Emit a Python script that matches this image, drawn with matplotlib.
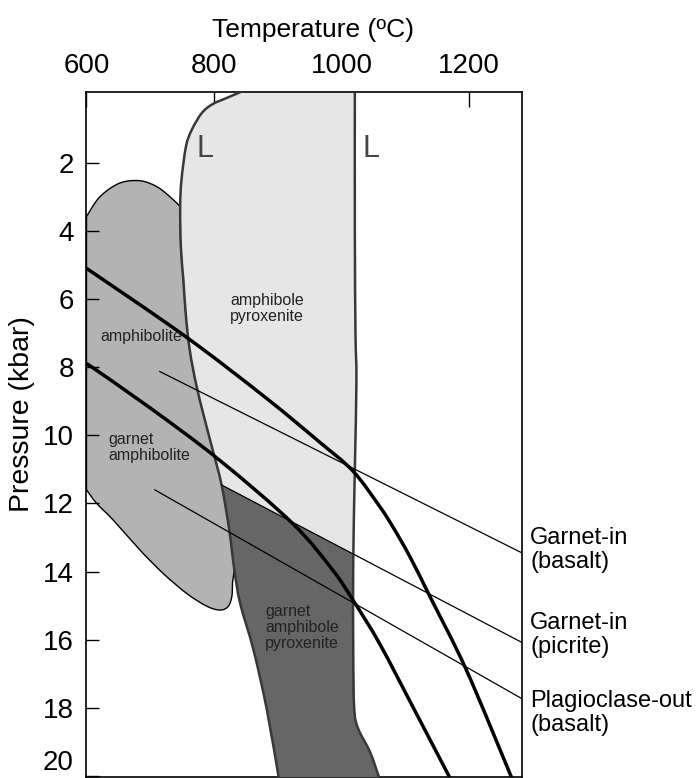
import numpy as np
import matplotlib
matplotlib.use('Agg')
import matplotlib.pyplot as plt
from matplotlib.path import Path
from matplotlib.patches import PathPatch

plt.rcParams['font.family'] = ['Liberation Sans', 'DejaVu Sans']

# left "L" boundary (solidus), temperature (C) vs pressure (kbar)
solidus_T = [845, 820, 798, 781, 765, 756, 749, 747, 748, 752, 756, 762, 772, 785, 798, 812, 824, 832, 841, 862, 883, 902]
solidus_P = [-0.1, 0.1, 0.28, 0.54, 1.04, 1.53, 2.51, 3.29, 4.46, 5.44, 6.5, 7.5, 8.5, 9.5, 10.43, 11.46, 12.78, 13.95, 14.93, 16.3, 18.06, 20.1]

# right "L" boundary (liquidus)
liquidus_T = [1021, 1021, 1022, 1023.5, 1021, 1018.5, 1018.5, 1020, 1026, 1045, 1060]
liquidus_P = [-0.1, 4, 7, 8.4, 11, 13.7, 16.3, 18.0, 18.6, 19.3, 20.1]

# amphibolite field, upper and lower edges
blob_top_T = [600, 621, 652, 684, 710, 731, 746]
blob_top_P = [3.58, 3.0, 2.6, 2.53, 2.7, 3.0, 3.27]
blob_bot_T = [829, 828, 822, 809, 788, 757, 720, 684, 642, 616, 600]
blob_bot_P = [14.34, 14.74, 15.03, 15.13, 15.01, 14.64, 14.05, 13.37, 12.49, 12.0, 11.6]

# heavy curves
heavy1_T = [600, 756, 882, 965, 1018, 1060, 1081, 1107, 1139, 1196, 1267]
heavy1_P = [5.1, 7.11, 8.91, 10.19, 11.05, 12.09, 12.7, 13.55, 14.74, 16.89, 20.05]
heavy2_T = [600, 700, 808, 923, 986, 1018.5, 1060, 1112, 1170]
heavy2_P = [7.89, 9.2, 10.72, 12.58, 13.95, 14.85, 16.12, 17.97, 20.05]

# reaction lines
gt_basalt_T = [715, 1284]
gt_basalt_P = [8.13, 13.46]
gt_picrite_T = [812, 1284]
gt_picrite_P = [11.46, 16.09]
plag_out_T = [707, 1284]
plag_out_P = [11.6, 17.74]

line_labels = ['Garnet-in\n(basalt)', 'Garnet-in\n(picrite)', 'Plagioclase-out\n(basalt)']
line_label_P = [13.37, 15.86, 18.16]


class Smooth:
	# catmull-rom through the points, handed to matplotlib as cubic bezier pieces
	def __init__(self, T, P):
		self.pts = np.column_stack([T, P]).astype(float)
		ext = np.vstack([self.pts[0], self.pts, self.pts[-1]])
		self.segs = []
		for i in range(len(self.pts) - 1):
			a, b, c, d = ext[i], ext[i + 1], ext[i + 2], ext[i + 3]
			self.segs.append((b + (c - a) / 6, c - (d - b) / 6))

	def fwd(self, i0, i1):
		v, c = [], []
		for i in range(i0, i1):
			c1, c2 = self.segs[i]
			v += [c1, c2, self.pts[i + 1]]
			c += [Path.CURVE4] * 3
		return v, c

	def back(self, i1, i0):
		v, c = [], []
		for i in range(i1 - 1, i0 - 1, -1):
			c1, c2 = self.segs[i]
			v += [c2, c1, self.pts[i]]
			c += [Path.CURVE4] * 3
		return v, c

	def path(self):
		v, c = self.fwd(0, len(self.pts) - 1)
		return Path([self.pts[0]] + v, [Path.MOVETO] + c)


fig = plt.figure(figsize=(6.97, 7.78), dpi=100)
ax = fig.add_axes([0.1241, 0.0017, 0.6255, 0.8805])

sol = Smooth(solidus_T, solidus_P)
liq = Smooth(liquidus_T, liquidus_P)
top = Smooth(blob_top_T, blob_top_P)
bot = Smooth(blob_bot_T, blob_bot_P)
sol_P = np.array(solidus_P)
liq_P = np.array(liquidus_P)

# where the garnet-in (picrite) line meets the liquidus
Ps = np.linspace(0, 20, 4001)
lT = np.interp(Ps, liquidus_P, liquidus_T)
lineP = np.interp(lT, gt_picrite_T, gt_picrite_P)
k = np.argmin(np.abs(lineP - Ps))
xT, xP = lT[k], Ps[k]
p0 = gt_picrite_P[0]
ks = int(np.argmin(np.abs(sol_P - p0)))
kl = int(np.sum(liq_P < xP)) - 1  # last liquidus node above the crossing

# light field (amphibole pyroxenite)
v, c = [sol.pts[0]], [Path.MOVETO]
a, b = sol.fwd(0, ks); v += a; c += b
v += [(xT, xP), liq.pts[kl]]; c += [Path.LINETO] * 2
a, b = liq.back(kl, 0); v += a; c += b
v.append(sol.pts[0]); c.append(Path.CLOSEPOLY)
ax.add_patch(PathPatch(Path(v, c), facecolor='#e6e6e6', lw=0, zorder=2))

# dark field (garnet amphibole pyroxenite)
n_l = len(liquidus_P) - 1
n_s = len(solidus_P) - 1
v, c = [sol.pts[ks], (xT, xP), liq.pts[kl + 1]], [Path.MOVETO, Path.LINETO, Path.LINETO]
a, b = liq.fwd(kl + 1, n_l); v += a; c += b
v.append(sol.pts[n_s]); c.append(Path.LINETO)
a, b = sol.back(n_s, ks); v += a; c += b
v.append(sol.pts[ks]); c.append(Path.CLOSEPOLY)
ax.add_patch(PathPatch(Path(v, c), facecolor='#666666', lw=0, zorder=3))

# amphibolite field
k_a = int(np.argmin(np.abs(sol_P - blob_top_P[-1])))
k_b = int(np.sum(sol_P < blob_bot_P[0])) - 1
v, c = [top.pts[0]], [Path.MOVETO]
a, b = top.fwd(0, len(blob_top_P) - 1); v += a; c += b
v.append(sol.pts[k_a]); c.append(Path.LINETO)
a, b = sol.fwd(k_a, k_b); v += a; c += b
v.append(bot.pts[0]); c.append(Path.LINETO)
a, b = bot.fwd(0, len(blob_bot_P) - 1); v += a; c += b
v.append(top.pts[0]); c.append(Path.CLOSEPOLY)
ax.add_patch(PathPatch(Path(v, c), facecolor='#b3b3b3', edgecolor='black', lw=1.0, zorder=1))

ax.add_patch(PathPatch(sol.path(), fill=False, edgecolor='#383838', lw=1.8, zorder=4))
ax.add_patch(PathPatch(liq.path(), fill=False, edgecolor='#383838', lw=1.8, zorder=4))

for t, p in [(gt_basalt_T, gt_basalt_P), (gt_picrite_T, gt_picrite_P), (plag_out_T, plag_out_P)]:
	ax.plot(t, p, color='black', lw=0.9, zorder=5)
for t, p in [(heavy1_T, heavy1_P), (heavy2_T, heavy2_P)]:
	ax.add_patch(PathPatch(Smooth(t, p).path(), fill=False, edgecolor='black', lw=2.5, zorder=6))

ax.text(786, 1.6, 'L', fontsize=22, color='#444444', ha='center', va='center', zorder=7)
ax.text(1047, 1.6, 'L', fontsize=22, color='#444444', ha='center', va='center', zorder=7)
ax.text(825, 6.29, 'amphibole\npyroxenite', fontsize=11.5, color='#222222', ha='left', va='center', linespacing=1.1, zorder=7)
ax.text(621, 7.09, 'amphibolite', fontsize=11.5, color='#222222', ha='left', va='center', zorder=7)
ax.text(634, 10.36, 'garnet\namphibolite', fontsize=11.5, color='#222222', ha='left', va='center', linespacing=1.1, zorder=7)
ax.text(880, 15.65, 'garnet\namphibole\npyroxenite', fontsize=11.5, color='#222222', ha='left', va='center', linespacing=1.1, zorder=7)

for lab, p in zip(line_labels, line_label_P):
	ax.text(1296, p, lab, fontsize=17, ha='left', va='center', linespacing=1.1, clip_on=False)

ax.set_xlim(600, 1284)
ax.set_ylim(20.02, -0.085)
ax.set_xticks([600, 800, 1000, 1200])
ax.set_yticks(np.arange(2, 21, 2))
ax.xaxis.tick_top()
ax.tick_params(axis='x', direction='in', length=11, width=1, pad=9, labelsize=20)
ax.tick_params(axis='y', direction='in', length=9.5, width=1, pad=9, labelsize=20)
ax.get_yticklabels()[-1].set_va('bottom')
for s in ax.spines.values():
	s.set_linewidth(1.2)

fig.text(0.449, 0.961, 'Temperature (ºC)', fontsize=19, ha='center', va='center')
fig.text(0.032, 0.468, 'Pressure (kbar)', fontsize=20.5, ha='center', va='center', rotation=90)

fig.savefig('out.png', dpi=100)
